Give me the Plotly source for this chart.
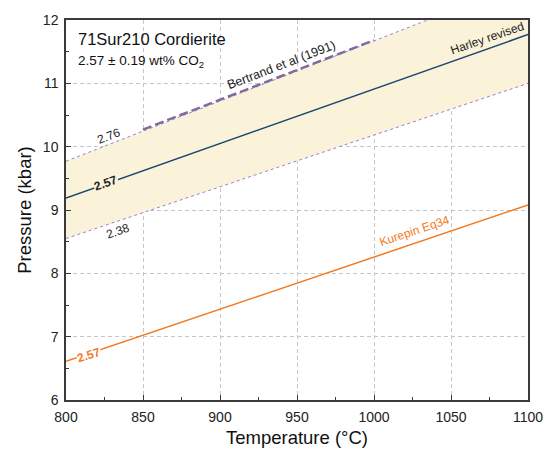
import plotly.graph_objects as go

# ---- data ----
temps = [800, 1100]
harley_p = [9.19, 11.77]        # 2.57 wt% CO2
upper_p = [9.77, 12.62]         # 2.76 wt% CO2
lower_p = [8.55, 11.00]         # 2.38 wt% CO2
kurepin_p = [6.61, 9.08]        # Kurepin Eq34, 2.57
bertrand_t = [850, 1000]
bertrand_p = [10.27, 11.68]

x_ticks = [800, 850, 900, 950, 1000, 1050, 1100]
y_ticks = [6, 7, 8, 9, 10, 11, 12]

FONT = "Liberation Sans, Arial, sans-serif"
FILL = "#faf3d9"
PURPLE = "#9b7fd6"
NAVY = "#1d4673"
ORANGE = "#f47a20"

fig = go.Figure()

fig.add_trace(go.Scatter(x=temps, y=lower_p, mode="lines",
                         line=dict(color=PURPLE, width=1, dash="3px,3px"),
                         showlegend=False, hoverinfo="skip"))
fig.add_trace(go.Scatter(x=temps, y=upper_p, mode="lines", fill="tonexty",
                         fillcolor=FILL,
                         line=dict(color=PURPLE, width=1, dash="3px,3px"),
                         showlegend=False, hoverinfo="skip"))
fig.add_trace(go.Scatter(x=bertrand_t, y=bertrand_p, mode="lines",
                         line=dict(color="#7f6c9c", width=2.5, dash="9px,4px"),
                         showlegend=False, hoverinfo="skip"))
fig.add_trace(go.Scatter(x=temps, y=harley_p, mode="lines",
                         line=dict(color=NAVY, width=1.5),
                         showlegend=False, hoverinfo="skip"))
fig.add_trace(go.Scatter(x=temps, y=kurepin_p, mode="lines",
                         line=dict(color=ORANGE, width=1.5),
                         showlegend=False, hoverinfo="skip"))

def ann(x, y, text, color="#222", size=12, angle=0, bg=None, bold=False):
    if bold:
        text = "<b>" + text + "</b>"
    fig.add_annotation(x=x, y=y, text=text, showarrow=False, textangle=angle,
                       font=dict(family=FONT, size=size, color=color),
                       bgcolor=bg, borderpad=0)

ann(826, 9.42, "2.57", angle=-19, bg=FILL, bold=True)
ann(828, 10.17, "2.76", angle=-21)
ann(834, 8.67, "2.38", angle=-19)
ann(1074, 11.71, "Harley revised", angle=-19)
ann(940, 11.29, "Bertrand et al (1991)", angle=-21, size=12.5)
ann(1026, 8.67, "Kurepin Eq34", color=ORANGE, angle=-18.5)
ann(815, 6.71, "2.57", color=ORANGE, angle=-18, bg="white", bold=True)

fig.add_annotation(x=0.022, y=0.978, xref="paper", yref="paper",
                   xanchor="left", yanchor="top", showarrow=False,
                   text="71Sur210 Cordierite",
                   font=dict(family=FONT, size=16.5, color="#111"))
fig.add_annotation(x=0.022, y=0.918, xref="paper", yref="paper",
                   xanchor="left", yanchor="top", showarrow=False,
                   text="2.57 ± 0.19 wt% CO<sub>2</sub>",
                   font=dict(family=FONT, size=13.5, color="#111"))

axis_common = dict(showgrid=True, gridcolor="#c6c6c6", griddash="4px,3px",
                   gridwidth=1, showline=True, linecolor="#3a3a3a", linewidth=1.5,
                   mirror=True, ticks="inside", ticklen=5, tickcolor="#3a3a3a",
                   tickfont=dict(family=FONT, size=14, color="#222"),
                   zeroline=False)

fig.update_xaxes(range=[800, 1100], tickvals=x_ticks, ticklabelstandoff=3,
                 title=dict(text="Temperature (°C)",
                            font=dict(family=FONT, size=18.5, color="#111"),
                            standoff=8),
                 minor=dict(ticks="inside", ticklen=3, tickcolor="#3a3a3a",
                            dtick=25, showgrid=False),
                 **axis_common)
fig.update_yaxes(range=[6, 12], tickvals=y_ticks, ticklabelstandoff=3,
                 title=dict(text="Pressure (kbar)",
                            font=dict(family=FONT, size=18.5, color="#111"),
                            standoff=6),
                 minor=dict(ticks="inside", ticklen=3, tickcolor="#3a3a3a",
                            dtick=0.5, showgrid=False),
                 **axis_common)

fig.update_layout(width=555, height=460,
                  margin=dict(l=66, r=19, t=16, b=60),
                  plot_bgcolor="white", paper_bgcolor="white",
                  showlegend=False)

fig.write_html("out.html")
